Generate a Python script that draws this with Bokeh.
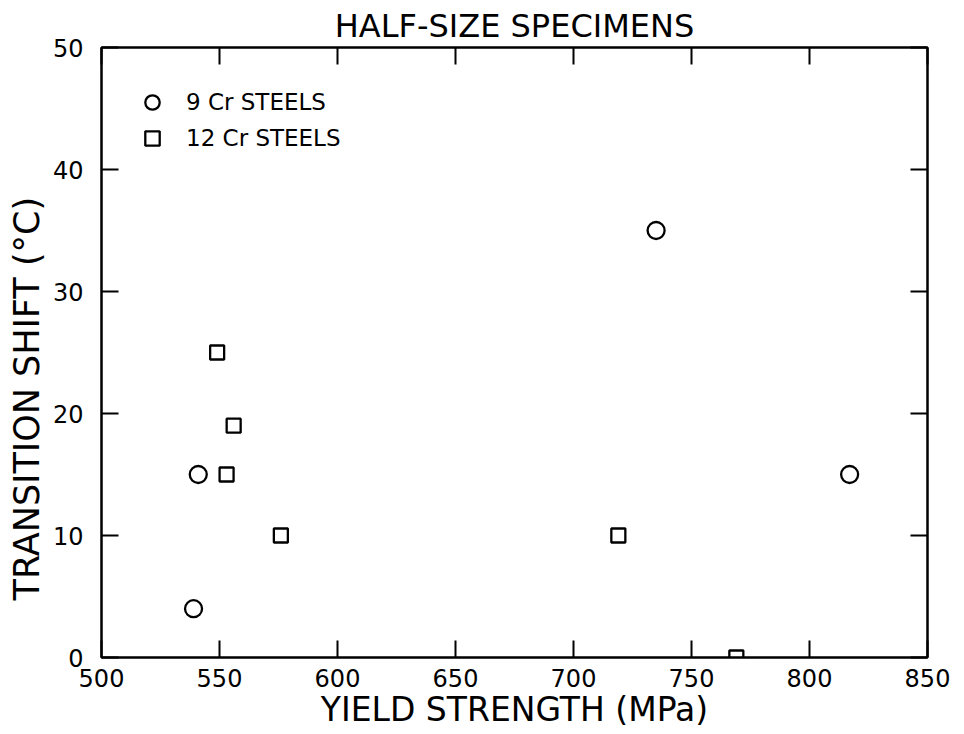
from bokeh.plotting import figure
from bokeh.models import (LinearAxis, FixedTicker, Range1d, Legend, LegendItem,
                          CustomJSTickFormatter, Title)
from bokeh.embed import file_html
from bokeh.resources import INLINE

# ---- data ----
cr9_yield = [539, 541, 735, 817]
cr9_shift = [4, 15, 35, 15]
cr12_yield = [549, 556, 553, 576, 719, 769]
cr12_shift = [25, 19, 15, 10, 10, 0]
x_ticks = [500, 550, 600, 650, 700, 750, 800, 850]
y_ticks = [0, 10, 20, 30, 40, 50]
title_text = "HALF-SIZE SPECIMENS"
x_label = "YIELD STRENGTH (MPa)"
y_label = "TRANSITION SHIFT (\u00b0C)"
series_labels = ["9 Cr STEELS", "12 Cr STEELS"]

FONT = "DejaVu Sans"

p = figure(width=964, height=734,
           x_range=Range1d(500, 850), y_range=Range1d(0, 50),
           output_backend="svg", toolbar_location=None,
           min_border_left=101, min_border_right=37,
           min_border_top=47, min_border_bottom=77,
           background_fill_color="white", border_fill_color="white")

p.title.text = title_text
p.title.align = "center"
p.title.text_font = FONT
p.title.text_font_size = "32px"
p.title.text_font_style = "normal"
p.title.text_color = "black"
p.title.standoff = 6

p.xgrid.visible = False
p.ygrid.visible = False
p.outline_line_color = "black"
p.outline_line_width = 2


def style_axis(ax, ticks, show_labels):
    ax.ticker = FixedTicker(ticks=ticks)
    ax.major_tick_in = 17
    ax.major_tick_out = 0
    ax.minor_tick_in = 0
    ax.minor_tick_out = 0
    ax.major_tick_line_width = 2
    ax.major_tick_line_color = "black"
    ax.axis_line_width = 2
    ax.axis_line_color = "black"
    if show_labels:
        ax.major_label_text_font = FONT
        ax.major_label_text_font_size = "24px"
        ax.major_label_text_color = "black"
        ax.axis_label_text_font = FONT
        ax.axis_label_text_font_size = "33px"
        ax.axis_label_text_font_style = "normal"
        ax.axis_label_text_color = "black"
    else:
        ax.formatter = CustomJSTickFormatter(code="return ''")
        ax.major_label_text_font_size = "0px"
        ax.major_label_standoff = 0


xa = p.xaxis[0]
style_axis(xa, x_ticks, True)
xa.axis_label = x_label
xa.major_label_standoff = 11
xa.axis_label_standoff = 0

ya = p.yaxis[0]
style_axis(ya, y_ticks, True)
ya.major_label_standoff = 18

# y-axis label as a left title, starting ~57 px above the frame bottom as in the reference
ytitle = Title(text=y_label, align="left", offset=57, standoff=5,
               text_font=FONT, text_font_size="35px", text_font_style="normal",
               text_color="black")
p.add_layout(ytitle, "left")

top_ax = LinearAxis()
style_axis(top_ax, x_ticks, False)
p.add_layout(top_ax, "above")
right_ax = LinearAxis()
style_axis(right_ax, y_ticks, False)
p.add_layout(right_ax, "right")

r9 = p.scatter(cr9_yield, cr9_shift, marker="circle", size=17,
               fill_color=None, line_color="black", line_width=2.3)
r12 = p.scatter(cr12_yield, cr12_shift, marker="square", size=14,
                fill_color=None, line_color="black", line_width=2.3)

legend = Legend(items=[LegendItem(label=series_labels[0], renderers=[r9]),
                       LegendItem(label=series_labels[1], renderers=[r12])],
                location=(33, 501), border_line_color=None,
                background_fill_alpha=0, glyph_width=36, glyph_height=36,
                spacing=-7, padding=0, margin=0, label_standoff=16,
                label_text_font=FONT, label_text_font_size="23px",
                label_text_color="black")
p.add_layout(legend)

open("out.html", "w").write(file_html(p, INLINE))
